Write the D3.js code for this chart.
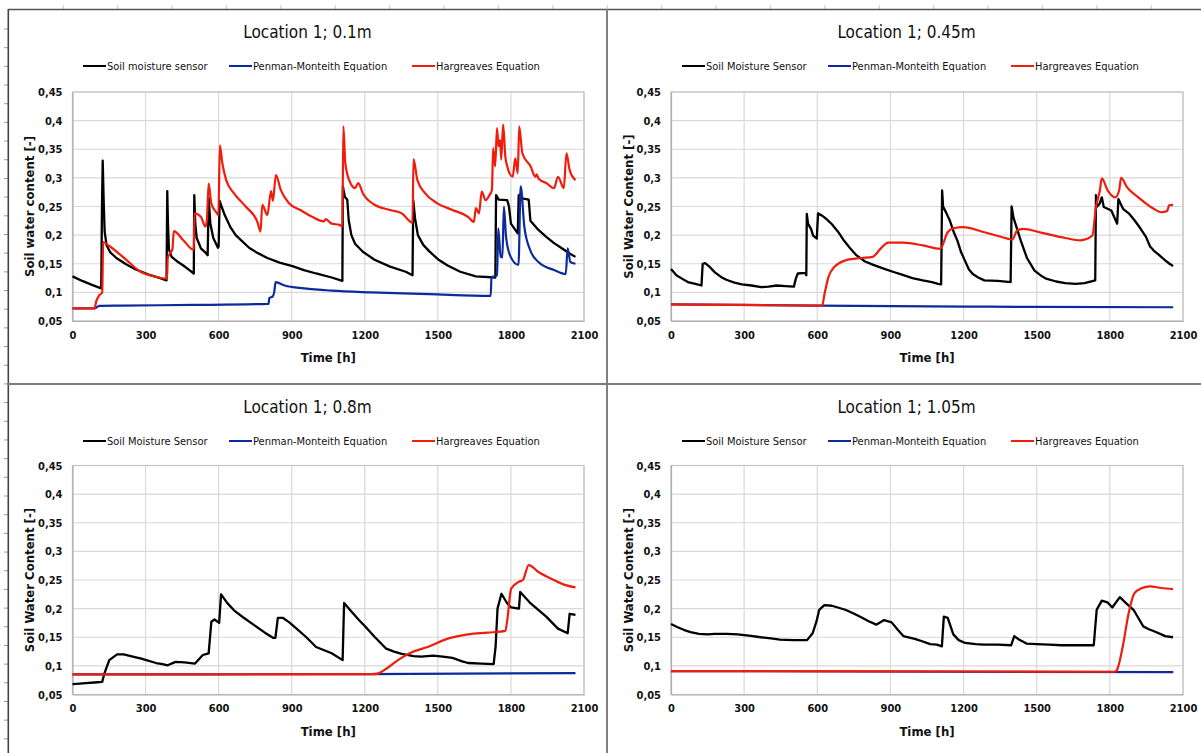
<!DOCTYPE html>
<html>
<head>
<meta charset="utf-8">
<script src="https://cdn.jsdelivr.net/npm/d3@7"></script>
<style>
  html, body { margin: 0; padding: 0; background: #fff; }
  svg { display: block; }
  .nar { font-family: "Liberation Sans Narrow", "DejaVu Sans Condensed", "Roboto Condensed", Arial, sans-serif; }
</style>
</head>
<body>
<svg id="chart" width="1201" height="753"></svg>
<script>
// ---- data -------------------------------------------------------------
const panelTitles = ["Location 1; 0.1m", "Location 1; 0.45m", "Location 1; 0.8m", "Location 1; 1.05m"];
const seriesNames1 = ["Soil moisture sensor", "Penman-Monteith Equation", "Hargreaves Equation"];
const seriesNames = ["Soil Moisture Sensor", "Penman-Monteith Equation", "Hargreaves Equation"];
const yAxisTitles = ["Soil water content [-]", "Soil Water Content [-]", "Soil Water Content [-]", "Soil Water Content [-]"];
const xAxisTitle = "Time [h]";
const xTickValues = [0, 300, 600, 900, 1200, 1500, 1800, 2100];
const yTickValues = [0.05, 0.1, 0.15, 0.2, 0.25, 0.3, 0.35, 0.4, 0.45];
const yTickLabels = ["0,05", "0,1", "0,15", "0,2", "0,25", "0,3", "0,35", "0,4", "0,45"];

// depth 0.1 m  — [time h, water content]
const sensor010 = [[0,0.128],[40,0.12],[80,0.113],[118,0.107],[121,0.25],[124,0.330],[128,0.26],[132,0.206],[140,0.182],[155,0.17],[180,0.16],[220,0.149],[260,0.14],[320,0.13],[360,0.125],[386,0.121],[389,0.277],[392,0.22],[396,0.175],[407,0.162],[430,0.154],[455,0.147],[480,0.139],[498,0.133],[500,0.270],[504,0.22],[510,0.195],[527,0.177],[545,0.17],[555,0.165],[559,0.265],[566,0.22],[578,0.195],[597,0.178],[600,0.18],[604,0.26],[612,0.25],[625,0.235],[647,0.215],[670,0.2],[695,0.19],[725,0.178],[759,0.169],[800,0.16],[850,0.152],[903,0.146],[950,0.139],[1000,0.133],[1064,0.126],[1108,0.12],[1110,0.285],[1118,0.267],[1128,0.262],[1134,0.226],[1145,0.2],[1160,0.185],[1192,0.171],[1240,0.157],[1304,0.145],[1368,0.136],[1396,0.13],[1399,0.261],[1406,0.23],[1418,0.2],[1440,0.183],[1464,0.172],[1500,0.158],[1540,0.147],[1592,0.136],[1656,0.128],[1736,0.126],[1739,0.27],[1750,0.262],[1785,0.261],[1792,0.25],[1800,0.22],[1828,0.203],[1832,0.27],[1845,0.264],[1873,0.262],[1880,0.225],[1913,0.209],[1945,0.197],[1977,0.186],[2009,0.177],[2041,0.168],[2065,0.162]];
const penman010 = [[0,0.072],[90,0.072],[110,0.0765],[200,0.077],[500,0.078],[805,0.08],[808,0.09],[822,0.093],[828,0.1],[834,0.118],[871,0.112],[951,0.107],[1064,0.103],[1224,0.1],[1464,0.097],[1717,0.094],[1720,0.126],[1743,0.13],[1748,0.212],[1758,0.162],[1765,0.161],[1771,0.25],[1780,0.197],[1799,0.162],[1831,0.148],[1840,0.285],[1855,0.215],[1879,0.174],[1913,0.153],[1977,0.139],[2025,0.132],[2033,0.177],[2044,0.153],[2065,0.15]];
const hargreaves010 = [[0,0.072],[90,0.072],[98,0.085],[110,0.095],[122,0.1],[126,0.188],[151,0.181],[215,0.159],[279,0.136],[343,0.127],[388,0.124],[391,0.16],[400,0.168],[410,0.175],[416,0.207],[455,0.191],[498,0.174],[501,0.238],[527,0.232],[546,0.215],[552,0.228],[559,0.29],[570,0.255],[590,0.24],[599,0.235],[605,0.357],[615,0.326],[631,0.296],[663,0.273],[711,0.25],[760,0.222],[772,0.206],[779,0.253],[800,0.235],[815,0.277],[823,0.26],[835,0.305],[855,0.279],[888,0.256],[935,0.244],[984,0.232],[1032,0.224],[1040,0.228],[1064,0.22],[1096,0.218],[1108,0.215],[1112,0.39],[1120,0.326],[1136,0.296],[1160,0.282],[1173,0.291],[1192,0.273],[1240,0.253],[1304,0.244],[1352,0.238],[1396,0.222],[1400,0.333],[1416,0.296],[1448,0.273],[1496,0.256],[1560,0.244],[1624,0.232],[1648,0.223],[1656,0.247],[1669,0.238],[1680,0.276],[1696,0.261],[1712,0.27],[1722,0.279],[1727,0.352],[1735,0.32],[1743,0.387],[1749,0.355],[1756,0.366],[1760,0.332],[1768,0.393],[1777,0.337],[1785,0.32],[1807,0.302],[1818,0.334],[1828,0.308],[1834,0.39],[1847,0.343],[1881,0.32],[1900,0.302],[1905,0.306],[1915,0.298],[1945,0.291],[1977,0.282],[1993,0.302],[2017,0.282],[2028,0.343],[2041,0.314],[2065,0.296]];

// depth 0.45 m
const sensor045 = [[0,0.141],[10,0.136],[22,0.13],[45,0.124],[69,0.118],[100,0.115],[125,0.112],[130,0.15],[140,0.151],[155,0.146],[180,0.135],[205,0.127],[227,0.122],[260,0.117],[291,0.114],[330,0.112],[370,0.109],[400,0.11],[433,0.112],[470,0.111],[504,0.11],[512,0.124],[520,0.133],[551,0.134],[555,0.13],[557,0.237],[562,0.22],[575,0.21],[583,0.199],[598,0.194],[603,0.238],[620,0.234],[638,0.228],[660,0.219],[685,0.206],[710,0.19],[733,0.178],[760,0.165],[796,0.154],[830,0.148],[875,0.141],[910,0.136],[954,0.13],[990,0.125],[1033,0.121],[1070,0.118],[1096,0.115],[1108,0.114],[1112,0.278],[1116,0.25],[1130,0.238],[1143,0.226],[1160,0.205],[1175,0.19],[1190,0.17],[1206,0.155],[1222,0.14],[1238,0.132],[1260,0.126],[1285,0.121],[1340,0.12],[1393,0.118],[1397,0.25],[1405,0.23],[1420,0.21],[1435,0.19],[1460,0.16],[1491,0.138],[1515,0.13],[1538,0.124],[1580,0.119],[1617,0.116],[1660,0.115],[1696,0.116],[1740,0.121],[1743,0.27],[1748,0.25],[1758,0.255],[1767,0.266],[1775,0.249],[1806,0.243],[1830,0.22],[1835,0.263],[1854,0.246],[1880,0.237],[1901,0.226],[1925,0.212],[1948,0.197],[1965,0.18],[1980,0.173],[2000,0.166],[2027,0.156],[2045,0.15],[2059,0.146]];
const penman045 = [[0,0.079],[600,0.077],[1300,0.075],[2060,0.074]];
const hargreaves045 = [[0,0.079],[300,0.078],[620,0.077],[630,0.098],[646,0.127],[669,0.144],[717,0.156],[780,0.16],[827,0.162],[859,0.176],[891,0.187],[954,0.187],[1033,0.182],[1104,0.176],[1135,0.205],[1159,0.212],[1198,0.214],[1285,0.205],[1380,0.194],[1399,0.192],[1420,0.208],[1443,0.211],[1522,0.204],[1617,0.195],[1680,0.191],[1728,0.199],[1743,0.249],[1759,0.278],[1767,0.299],[1791,0.278],[1822,0.266],[1838,0.278],[1846,0.3],[1870,0.284],[1917,0.266],[1980,0.246],[2012,0.24],[2035,0.242],[2043,0.252],[2059,0.253]];

// depth 0.8 m
const sensor080 = [[0,0.068],[30,0.069],[54,0.07],[90,0.071],[122,0.072],[131,0.087],[151,0.11],[183,0.12],[210,0.12],[231,0.118],[260,0.115],[279,0.113],[310,0.109],[343,0.105],[370,0.103],[391,0.101],[423,0.107],[460,0.106],[503,0.104],[535,0.119],[559,0.122],[570,0.177],[583,0.181],[602,0.175],[610,0.225],[635,0.21],[663,0.197],[700,0.185],[743,0.172],[790,0.158],[823,0.149],[833,0.149],[843,0.184],[863,0.184],[890,0.176],[920,0.165],[960,0.15],[1000,0.133],[1064,0.122],[1109,0.11],[1115,0.21],[1145,0.195],[1176,0.18],[1210,0.165],[1240,0.151],[1288,0.13],[1320,0.125],[1352,0.121],[1400,0.117],[1432,0.116],[1480,0.118],[1520,0.116],[1560,0.114],[1600,0.108],[1624,0.105],[1680,0.104],[1729,0.103],[1737,0.133],[1745,0.2],[1761,0.226],[1785,0.209],[1801,0.202],[1833,0.2],[1838,0.229],[1881,0.209],[1945,0.186],[1993,0.165],[2033,0.157],[2041,0.191],[2065,0.189]];
const penman080 = [[0,0.085],[1200,0.0857],[2065,0.0875]];
const hargreaves080 = [[0,0.085],[1230,0.0855],[1256,0.087],[1288,0.095],[1336,0.11],[1384,0.122],[1464,0.134],[1544,0.148],[1624,0.155],[1704,0.158],[1777,0.161],[1785,0.18],[1801,0.235],[1833,0.247],[1849,0.25],[1873,0.276],[1913,0.264],[1977,0.25],[2025,0.241],[2065,0.237]];

// depth 1.05 m
const sensor105 = [[0,0.173],[25,0.168],[52,0.163],[80,0.159],[115,0.156],[150,0.155],[179,0.156],[230,0.156],[273,0.155],[320,0.153],[368,0.15],[410,0.148],[447,0.146],[500,0.145],[558,0.145],[581,0.157],[597,0.178],[608,0.198],[629,0.206],[660,0.205],[684,0.202],[715,0.198],[747,0.192],[780,0.185],[811,0.178],[842,0.172],[874,0.18],[905,0.176],[930,0.163],[953,0.152],[1000,0.147],[1030,0.143],[1063,0.138],[1090,0.137],[1111,0.134],[1119,0.186],[1135,0.184],[1158,0.155],[1180,0.145],[1206,0.14],[1250,0.138],[1285,0.137],[1340,0.137],[1395,0.136],[1408,0.152],[1427,0.146],[1458,0.139],[1500,0.138],[1550,0.137],[1601,0.136],[1660,0.136],[1734,0.136],[1746,0.198],[1767,0.214],[1790,0.211],[1810,0.202],[1841,0.22],[1865,0.21],[1897,0.198],[1915,0.185],[1937,0.169],[1960,0.164],[1984,0.16],[2027,0.152],[2059,0.15]];
const penman105 = [[0,0.091],[2060,0.089]];
const hargreaves105 = [[0,0.091],[900,0.0905],[1820,0.0897],[1830,0.0935],[1853,0.134],[1877,0.192],[1901,0.227],[1932,0.236],[1964,0.239],[2011,0.236],[2059,0.234]];

// ---- layout & style ---------------------------------------------------
const colors = { sensor: "#000000", penman: "#0d2a9c", hargreaves: "#f01c0c" };
const panels = [
  { title: panelTitles[0], names: seriesNames1, yTitle: yAxisTitles[0], data: [sensor010, penman010, hargreaves010], left: 8,   top: 9,   plot: [72.5, 584, 92, 321] },
  { title: panelTitles[1], names: seriesNames,  yTitle: yAxisTitles[1], data: [sensor045, penman045, hargreaves045], left: 607, top: 9,   plot: [671, 1183, 92, 321] },
  { title: panelTitles[2], names: seriesNames,  yTitle: yAxisTitles[2], data: [sensor080, penman080, hargreaves080], left: 8,   top: 384, plot: [72.5, 584, 465.5, 694.5] },
  { title: panelTitles[3], names: seriesNames,  yTitle: yAxisTitles[3], data: [sensor105, penman105, hargreaves105], left: 607, top: 384, plot: [671, 1183, 465.5, 694.5] }
];
const areaWidth = 599;

const svg = d3.select("#chart");
svg.append("rect").attr("width", 1201).attr("height", 753).attr("fill", "#fff");

// page ruler ticks along top and left edges
const ruler = svg.append("g");
ruler.selectAll("line.tt").data(d3.range(0, 22)).join("line")
  .attr("x1", i => 63.3 + i * 54.4).attr("x2", i => 63.3 + i * 54.4)
  .attr("y1", 5).attr("y2", 9).attr("stroke", "#c8c8c8").attr("stroke-width", 1);
ruler.selectAll("line.lt").data(d3.range(0, 40)).join("line")
  .attr("x1", 4).attr("x2", 8)
  .attr("y1", i => 29 + i * 18.68).attr("y2", i => 29 + i * 18.68)
  .attr("stroke", "#9a9a9a").attr("stroke-width", 1);

panels.forEach((p, pi) => {
  const [px0, px1, py0, py1] = p.plot;
  const x = d3.scaleLinear().domain([0, 2100]).range([px0, px1]);
  const y = d3.scaleLinear().domain([0.05, 0.45]).range([py1, py0]);
  const g = svg.append("g");
  const cx = p.left + areaWidth / 2;

  // title
  g.append("text").attr("class", "nar").attr("x", cx).attr("y", p.top + 29)
    .attr("text-anchor", "middle").attr("font-size", 17).attr("fill", "#111").text(p.title);

  // legend
  const legX = [75, 221, 404];
  const legY = p.top + 57;
  [colors.sensor, colors.penman, colors.hargreaves].forEach((c, i) => {
    const lx = p.left + legX[i];
    g.append("line").attr("x1", lx).attr("x2", lx + 23).attr("y1", legY).attr("y2", legY)
      .attr("stroke", c).attr("stroke-width", 2);
    g.append("text").attr("class", "nar").attr("x", lx + 24).attr("y", legY + 4)
      .attr("font-size", 11).attr("fill", "#111").text(p.names[i]);
  });

  // gridlines
  g.append("g").selectAll("line").data(yTickValues).join("line")
    .attr("x1", px0).attr("x2", px1).attr("y1", d => y(d)).attr("y2", d => y(d))
    .attr("stroke", "#d9d9d9").attr("stroke-width", 1.2);
  g.append("g").selectAll("line").data(xTickValues).join("line")
    .attr("x1", d => x(d)).attr("x2", d => x(d)).attr("y1", py0).attr("y2", py1)
    .attr("stroke", "#d9d9d9").attr("stroke-width", 1.2);
  g.append("rect").attr("x", px0).attr("y", py0).attr("width", px1 - px0).attr("height", py1 - py0)
    .attr("fill", "none").attr("stroke", "#c4c4c4").attr("stroke-width", 1.2);

  // axes
  const xAxis = d3.axisBottom(x).tickValues(xTickValues).tickSize(0).tickPadding(10).tickFormat(d3.format("d"));
  const gx = g.append("g").attr("transform", `translate(0,${py1})`).call(xAxis);
  const yAxis = d3.axisLeft(y).tickValues(yTickValues).tickSize(0).tickPadding(10)
    .tickFormat((d, i) => yTickLabels[i]);
  const gy = g.append("g").attr("transform", `translate(${px0},0)`).call(yAxis);
  [gx, gy].forEach(a => {
    a.select(".domain").attr("stroke", "#b0b0b0").attr("stroke-width", 1.2);
    a.selectAll("text").attr("class", "nar").attr("font-size", 11).attr("font-weight", "bold").attr("fill", "#111");
  });

  // axis titles
  g.append("text").attr("class", "nar").attr("x", (px0 + px1) / 2).attr("y", py1 + 41)
    .attr("text-anchor", "middle").attr("font-size", 13).attr("font-weight", "bold").attr("fill", "#111").text(xAxisTitle);
  g.append("text").attr("class", "nar")
    .attr("transform", `translate(${p.left + 26},${(py0 + py1) / 2}) rotate(-90)`)
    .attr("text-anchor", "middle").attr("font-size", 13).attr("font-weight", "bold").attr("fill", "#111").text(p.yTitle);

  // series
  const lineSharp = d3.line().x(d => x(d[0])).y(d => y(d[1]));
  const lineSmooth = d3.line().x(d => x(d[0])).y(d => y(d[1])).curve(d3.curveMonotoneX);
  g.append("path").datum(p.data[0]).attr("d", lineSharp).attr("fill", "none")
    .attr("stroke", colors.sensor).attr("stroke-width", 2.3).attr("stroke-linejoin", "round");
  g.append("path").datum(p.data[1]).attr("d", lineSmooth).attr("fill", "none")
    .attr("stroke", colors.penman).attr("stroke-width", 2.2).attr("stroke-linejoin", "round");
  g.append("path").datum(p.data[2]).attr("d", lineSmooth).attr("fill", "none")
    .attr("stroke", colors.hargreaves).attr("stroke-width", 2.2).attr("stroke-linejoin", "round");
});

// page frame and panel dividers
svg.append("line").attr("x1", 8).attr("x2", 1201).attr("y1", 9.5).attr("y2", 9.5).attr("stroke", "#555").attr("stroke-width", 1.6);
svg.append("line").attr("x1", 8.3).attr("x2", 8.3).attr("y1", 9).attr("y2", 753).attr("stroke", "#444").attr("stroke-width", 1.6);
svg.append("line").attr("x1", 607).attr("x2", 607).attr("y1", 9).attr("y2", 753).attr("stroke", "#808080").attr("stroke-width", 2);
svg.append("line").attr("x1", 8).attr("x2", 1201).attr("y1", 384).attr("y2", 384).attr("stroke", "#7a7a7a").attr("stroke-width", 2);
</script>
</body>
</html>
